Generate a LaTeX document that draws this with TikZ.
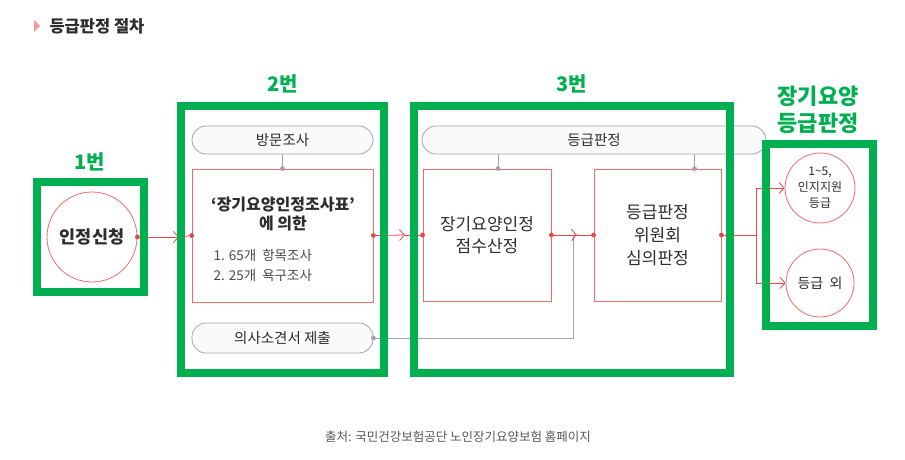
\documentclass[tikz,border=0pt]{standalone}
\usepackage{fontspec}
\setmainfont{Noto Sans CJK KR}
\usepackage{xcolor}
\usepackage{tikz}
\usetikzlibrary{positioning,calc,arrows.meta}

\definecolor{boxgreen}{RGB}{0,176,80}
\definecolor{flowred}{RGB}{232,72,72}
\definecolor{pillgray}{RGB}{165,165,165}
\definecolor{inkdark}{RGB}{45,45,45}

\begin{document}
\begin{tikzpicture}[x=1pt, y=-1pt,
    greenframe/.style={draw=boxgreen, line width=8pt},
    steplabel/.style={text=boxgreen, font=\fontsize{20}{23}\selectfont\bfseries, align=center},
    stepbox/.style={draw=flowred!80, line width=0.8pt, rectangle, fill=white},
    endcircle/.style={circle, draw=flowred!80, line width=0.8pt, fill=white, align=center, text=inkdark},
    pill/.style={draw=pillgray, line width=0.8pt, rounded corners=14pt, fill=gray!4, text=inkdark, font=\fontsize{14.5}{17}\selectfont},
    reddot/.style={circle, fill=flowred, inner sep=1.7pt},
    graydot/.style={circle, fill=pillgray, inner sep=1.7pt},
    redline/.style={draw=flowred, line width=0.8pt},
    redarrow/.style={redline, -{Straight Barb[length=5pt, width=11pt]}},
    grayline/.style={draw=pillgray, line width=0.8pt}
]
\useasboundingbox (0,0) rectangle (905,460);

% Title
\fill[flowred!55] (34,20) -- (40,26) -- (34,32) -- cycle;
\node[anchor=west, text=inkdark, font=\fontsize{16.5}{19}\selectfont\bfseries] (title) at (46,26) {등급판정 절차};

% Pills
\node[pill, minimum width=181pt, minimum height=28pt] (visit) at (282.5,140) {방문조사};
\node[pill, minimum width=181pt, minimum height=30pt] (doctor) at (282.5,338) {의사소견서 제출};
\node[pill, minimum width=344pt, minimum height=28pt] (grading) at (594,140) {등급판정};

% Steps
\node[endcircle, minimum size=90pt, font=\fontsize{17.5}{20}\selectfont\bfseries] (apply) at (92,237) {인정신청};
\node[stepbox, minimum width=181pt, minimum height=133pt] (survey) at (282.5,235.5) {};
\node[text=inkdark, font=\fontsize{16}{19}\selectfont\bfseries, align=center] (surveyhead) at (283,214) {‘장기요양인정조사표’\\에 의한};
\node[anchor=west, text=inkdark!85, font=\fontsize{13.5}{20}\selectfont, align=left] (surveyitems) at (210,265) {1. 65개\ \ 항목조사\\2. 25개\ \ 욕구조사};
\node[stepbox, minimum width=128pt, minimum height=132pt, text=inkdark, align=center,
      font=\fontsize{17}{22}\selectfont] (score) at (487,235) {장기요양인정\\점수산정};
\node[stepbox, minimum width=127pt, minimum height=132pt, text=inkdark, align=center,
      font=\fontsize{17}{23}\selectfont] (review) at (657.5,235) {등급판정\\위원회\\심의판정};
\node[endcircle, minimum size=68pt, font=\fontsize{12}{16}\selectfont] (grade) at (820,188) {1\textasciitilde5,\\인지지원\\등급};
\node[endcircle, minimum size=68pt, font=\fontsize{14}{16}\selectfont] (outside) at (820,283) {등급\ \ 외};

% Transitions
\coordinate (tipone) at (179,237);
\coordinate (tiptwo) at (405,235);
\coordinate (tipthree) at (577,235);
\coordinate (split) at (756,235);
\coordinate (jointA) at ($(score.north)+(11,0)$);
\coordinate (jointB) at ($(review.north)+(37,0)$);
\draw[redarrow] (apply.east) -- (tipone);
\draw[redline] (tipone) -- (survey.west);
\draw[redarrow] (survey.east) -- (tiptwo);
\draw[redline] (tiptwo) -- (score.west);
\draw[grayline] (doctor.east) -| (573,235);
\draw[redarrow] (score.east) -- (tipthree);
\draw[redline] (tipthree) -- (review.west);
\draw[redline] (review.east) -- (split);
\draw[redarrow] (split) |- (grade.west);
\draw[redarrow] (split) |- (outside.west);
\draw[grayline] (visit.south) -- (survey.north);
\draw[grayline] (jointA |- grading.south) -- (jointA);
\draw[grayline] (jointB |- grading.south) -- (jointB);

% Dots
\node[reddot] at (apply.east) {};
\node[reddot] at (survey.west) {};
\node[reddot] at (survey.east) {};
\node[reddot] at (score.west) {};
\node[reddot] at (score.east) {};
\node[reddot] at (review.west) {};
\node[reddot] at (review.east) {};
\node[graydot] at (survey.north) {};
\node[graydot] at (jointA) {};
\node[graydot] at (jointB) {};
\node[graydot] at (doctor.east) {};

% Green frames
\draw[greenframe] (37,182) rectangle (144,292);
\draw[greenframe] (181,106) rectangle (384,373);
\draw[greenframe] (414,106) rectangle (730,373);
\draw[greenframe] (766,144) rectangle (873,326);
\node[steplabel] (labelone) at (90,162) {1번};
\node[steplabel] (labeltwo) at (283,84) {2번};
\node[steplabel] (labelthree) at (572,84) {3번};
\node[steplabel, font=\fontsize{22}{27}\selectfont\bfseries] (labelfour) at (818,110) {장기요양\\등급판정};

% Source
\node[text=inkdark!80, font=\fontsize{12.5}{15}\selectfont] (source) at (458,437) {출처: 국민건강보험공단 노인장기요양보험 홈페이지};

\end{tikzpicture}
\end{document}
